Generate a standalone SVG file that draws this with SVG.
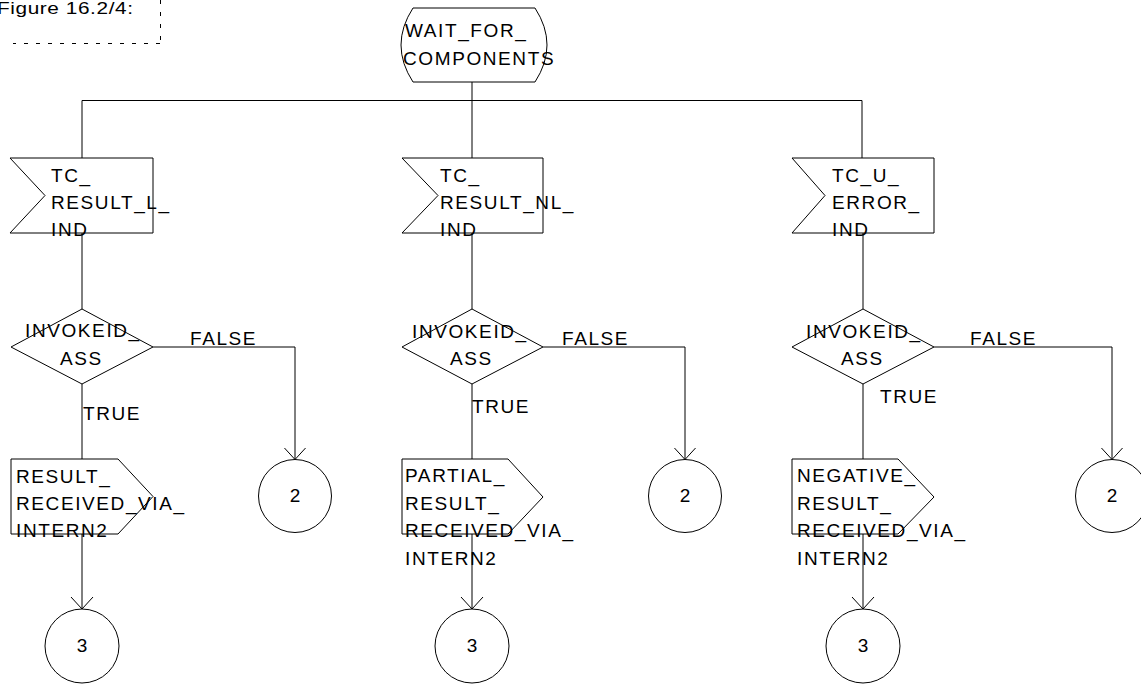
<svg xmlns="http://www.w3.org/2000/svg" width="1141" height="684" viewBox="0 0 1141 684">
<defs>
<marker id="arr" markerWidth="24" markerHeight="24" refX="12" refY="12" orient="auto" markerUnits="userSpaceOnUse">
<path d="M0,1 L12,12 L0,23" fill="none" stroke="#000" stroke-width="1"/>
</marker>
<style>
.s{fill:#fff;stroke:#000;stroke-width:1}
.l{fill:none;stroke:#000;stroke-width:1}
.d{fill:none;stroke:#000;stroke-width:1;stroke-dasharray:4 8}
text{font-family:"Liberation Sans",Arial,sans-serif;font-size:19px;letter-spacing:1.6px;fill:#000}
.c{text-anchor:middle;letter-spacing:0}
</style>
</defs>
<rect width="1141" height="684" fill="#fff"/>
<g id="caption">
<path class="d" d="M160.5,0 V43.5 M160,43.5 H13"/>
<text x="-2.3" y="14" transform="scale(1.3,1)" style="font-size:16px;letter-spacing:0.45px">Figure 16.2/4:</text>
</g>
<g id="connectors">
<path class="l" d="M472,82 V158 M82,158 V100.5 H862 V158"/>
<path class="l" d="M82,233 V309 M472,233 V309 M863,233 V309"/>
<path class="l" d="M82,384 V459 M472,384 V459 M863,384 V459"/>
<path class="l" d="M82,534 V609" marker-end="url(#arr)"/>
<path class="l" d="M472,534 V609" marker-end="url(#arr)"/>
<path class="l" d="M863,534 V609" marker-end="url(#arr)"/>
<path class="l" d="M153,347 H295 V459.5" marker-end="url(#arr)"/>
<path class="l" d="M543,347 H685 V459.5" marker-end="url(#arr)"/>
<path class="l" d="M934,347 H1112 V459.5" marker-end="url(#arr)"/>
<text x="190" y="345">FALSE</text>
<text x="562" y="345">FALSE</text>
<text x="970" y="345">FALSE</text>
<text x="83" y="420">TRUE</text>
<text x="472" y="413">TRUE</text>
<text x="880" y="403">TRUE</text>
</g>
<g id="state">
<path class="s" d="M413,8 H535 Q559,45 535,82 H413 Q389,45 413,8 Z"/>
<text x="405" y="37">WAIT_FOR_</text>
<text x="403" y="65">COMPONENTS</text>
</g>
<g id="in1">
<polygon class="s" points="10,158 153,158 153,233 10,233 45,195.5"/>
<text x="51" y="182">TC_</text>
<text x="51" y="209">RESULT_L_</text>
<text x="51" y="236">IND</text>
</g>
<g id="in2">
<polygon class="s" points="402,158 543,158 543,233 402,233 438,195.5"/>
<text x="440" y="182">TC_</text>
<text x="440" y="209">RESULT_NL_</text>
<text x="440" y="236">IND</text>
</g>
<g id="in3">
<polygon class="s" points="792,158 934,158 934,233 792,233 825,195.5"/>
<text x="832" y="182">TC_U_</text>
<text x="832" y="209">ERROR_</text>
<text x="832" y="236">IND</text>
</g>
<g id="dec1">
<polygon class="s" points="82,309 153,347 82,384 11,347"/>
<text x="25" y="337">INVOKEID_</text>
<text x="60" y="365">ASS</text>
</g>
<g id="dec2">
<polygon class="s" points="472,309 543,347 472,384 402,347"/>
<text x="412" y="338">INVOKEID_</text>
<text x="450" y="365">ASS</text>
</g>
<g id="dec3">
<polygon class="s" points="863,309 934,347 863,384 792,347"/>
<text x="806" y="338">INVOKEID_</text>
<text x="841" y="365">ASS</text>
</g>
<g id="out1">
<polygon class="s" points="11,459 118,459 153,496.5 118,534 11,534"/>
<text x="16" y="483">RESULT_</text>
<text x="16" y="509.5">RECEIVED_VIA_</text>
<text x="16" y="536.5">INTERN2</text>
</g>
<g id="out2">
<polygon class="s" points="402,459 508,459 543,497 508,534 402,534"/>
<text x="405" y="482">PARTIAL_</text>
<text x="405" y="509.5">RESULT_</text>
<text x="405" y="536.5">RECEIVED_VIA_</text>
<text x="405" y="565">INTERN2</text>
</g>
<g id="out3">
<polygon class="s" points="792,459 898,459 934,497 898,534 792,534"/>
<text x="797" y="482">NEGATIVE_</text>
<text x="797" y="509.5">RESULT_</text>
<text x="797" y="536.5">RECEIVED_VIA_</text>
<text x="797" y="565">INTERN2</text>
</g>
<g id="c2a"><circle class="s" cx="295" cy="496" r="36.5"/><text class="c" x="295" y="502">2</text></g>
<g id="c2b"><circle class="s" cx="685" cy="496" r="36.5"/><text class="c" x="685" y="502">2</text></g>
<g id="c2c"><circle class="s" cx="1112" cy="496" r="36.5"/><text class="c" x="1112" y="502">2</text></g>
<g id="c3a"><circle class="s" cx="82" cy="646" r="37"/><text class="c" x="82" y="652">3</text></g>
<g id="c3b"><circle class="s" cx="472" cy="646" r="37"/><text class="c" x="472" y="652">3</text></g>
<g id="c3c"><circle class="s" cx="863" cy="646" r="37"/><text class="c" x="863" y="652">3</text></g>
</svg>
